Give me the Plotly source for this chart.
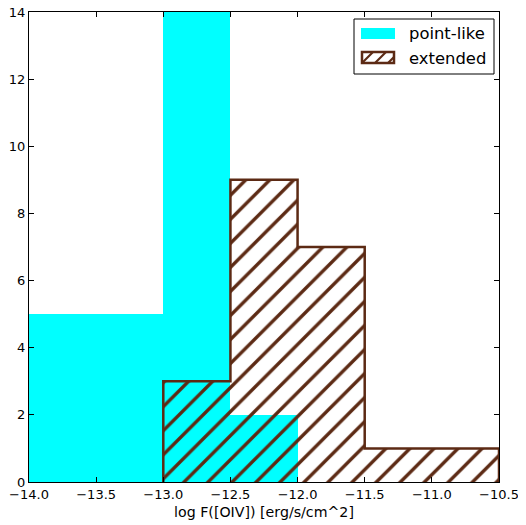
import plotly.graph_objects as go

bin_edges = [-14.0, -13.5, -13.0, -12.5, -12.0, -11.5, -11.0, -10.5]
point_like = [5, 5, 14, 2, 0, 0, 0]
extended = [0, 0, 3, 9, 7, 1, 1]
x_ticks = [-14.0, -13.5, -13.0, -12.5, -12.0, -11.5, -11.0, -10.5]
y_ticks = [0, 2, 4, 6, 8, 10, 12, 14]
series_names = ["point-like", "extended"]

CYAN = "#00ffff"
BROWN = "#5c2a14"

# page has an 8px body margin, so the figure is sized/offset accordingly
OFF = 8
W, H = 526 - OFF, 525 - OFF
ML, MR, MT, MB = 29 - OFF, 27, 12 - OFF, 43
PW, PH = W - ML - MR, H - MT - MB


def px_x(p):
    return (p - OFF - ML) / PW


def px_y(p):
    return (H - MB - (p - OFF)) / PH


centers = [(a + b) / 2 for a, b in zip(bin_edges[:-1], bin_edges[1:])]
widths = [b - a for a, b in zip(bin_edges[:-1], bin_edges[1:])]

# step outline of extended histogram (skip leading/trailing empty bins)
nz = [i for i, c in enumerate(extended) if c > 0]
i0, i1 = nz[0], nz[-1]
sx, sy = [bin_edges[i0]], [0]
for i in range(i0, i1 + 1):
    sx += [bin_edges[i], bin_edges[i + 1]]
    sy += [extended[i], extended[i]]
sx.append(bin_edges[i1 + 1])
sy.append(0)

fig = go.Figure()
fig.add_trace(go.Bar(
    x=centers, y=point_like, width=widths, name=series_names[0],
    marker=dict(color=CYAN, line=dict(width=0)), showlegend=False,
))
fig.add_trace(go.Scatter(
    x=sx, y=sy, mode="lines", name=series_names[1], fill="toself",
    fillcolor="rgba(0,0,0,0)",
    fillpattern=dict(shape="/", fgcolor=BROWN, bgcolor="rgba(0,0,0,0)",
                     fgopacity=1, size=17, solidity=0.2),
    line=dict(color=BROWN, width=2.5), showlegend=False,
))

axis_common = dict(
    showline=True, linecolor="black", linewidth=1, mirror="ticks",
    ticks="inside", ticklen=5, tickcolor="black", showgrid=False,
    zeroline=False, tickfont=dict(size=13, color="black"), automargin=False,
    ticklabeloverflow="allow",
)
fig.update_xaxes(range=[-14, -10.5], tickvals=x_ticks, tickformat=".1f",
                 title=dict(text="log F([OIV]) [erg/s/cm^2]", font=dict(size=14.2, color="black"), standoff=6),
                 **axis_common)
fig.update_yaxes(range=[0, 14], tickvals=y_ticks, **axis_common)

# manual legend (box, swatches, labels)
shapes = [
    dict(type="rect", xref="paper", yref="paper",
         x0=px_x(354), x1=px_x(494), y0=px_y(74), y1=px_y(19),
         line=dict(color="black", width=1), fillcolor="white", layer="above"),
    dict(type="rect", xref="paper", yref="paper",
         x0=px_x(361), x1=px_x(395), y0=px_y(39), y1=px_y(28),
         line=dict(width=0), fillcolor=CYAN, layer="above"),
    dict(type="rect", xref="paper", yref="paper",
         x0=px_x(362), x1=px_x(394), y0=px_y(63), y1=px_y(52),
         line=dict(color=BROWN, width=2.5), fillcolor="white", layer="above"),
]
for a in [362, 375, 388]:
    b0, b1 = max(a, 362), min(a + 11, 394)
    shapes.append(dict(type="line", xref="paper", yref="paper",
                       x0=px_x(b0), y0=px_y(63 - (b0 - a)), x1=px_x(b1), y1=px_y(63 - (b1 - a)),
                       line=dict(color=BROWN, width=2.2), layer="above"))

annotations = [
    dict(xref="paper", yref="paper", x=px_x(407), y=px_y(34), xanchor="left", yanchor="middle",
         text=series_names[0], showarrow=False, font=dict(size=16.4, color="black")),
    dict(xref="paper", yref="paper", x=px_x(407), y=px_y(58), xanchor="left", yanchor="middle",
         text=series_names[1], showarrow=False, font=dict(size=16.4, color="black")),
]

fig.update_layout(
    width=W, height=H,
    margin=dict(l=ML, r=MR, t=MT, b=MB),
    paper_bgcolor="white", plot_bgcolor="white",
    font=dict(family="DejaVu Sans", color="black"),
    bargap=0, barmode="overlay",
    showlegend=False, shapes=shapes, annotations=annotations,
)
fig.write_html("out.html")
